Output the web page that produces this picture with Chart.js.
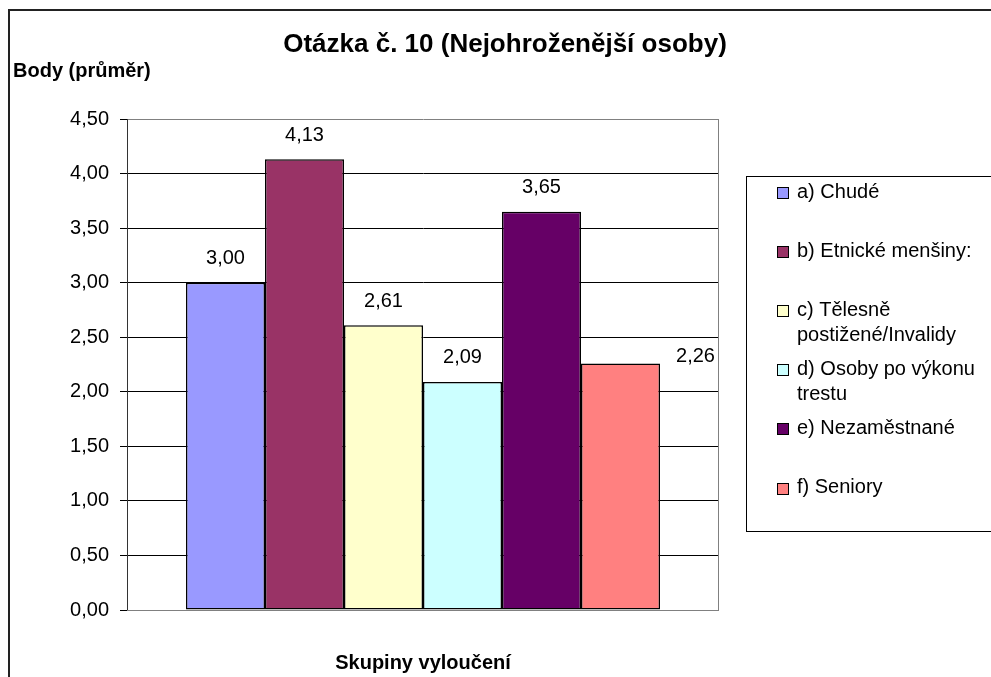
<!DOCTYPE html>
<html>
<head>
<meta charset="utf-8">
<script src="https://cdn.jsdelivr.net/npm/chart.js@4/dist/chart.umd.min.js"></script>
<style>
  html, body { margin: 0; padding: 0; background: #fff; }
  canvas { display: block; }
</style>
</head>
<body>
<canvas id="c" width="991" height="677"></canvas>
<script>
// ---- data ----
const chartTitle = 'Otázka č. 10 (Nejohroženější osoby)';
const yAxisTitle = 'Body (průměr)';
const xAxisTitle = 'Skupiny vyloučení';
const categories = [''];
const seriesNames = [
  'a) Chudé',
  'b) Etnické menšiny:',
  'c) Tělesně\npostižené/Invalidy',
  'd) Osoby po výkonu\ntrestu',
  'e) Nezaměstnané',
  'f) Seniory'
];
const seriesValues = [3.00, 4.13, 2.61, 2.09, 3.65, 2.26];
const seriesColors = ['#9999FF', '#993366', '#FFFFCC', '#CCFFFF', '#660066', '#FF8080'];
const yTicks = { min: 0, max: 4.5, step: 0.5 };

const FONT = "'Liberation Sans', Arial, sans-serif";
const fmt = v => v.toFixed(2).replace('.', ',');

const datasets = seriesNames.map((name, i) => ({
  label: name,
  data: [seriesValues[i]],
  backgroundColor: seriesColors[i],
  borderColor: '#000',
  borderWidth: 1.5,
  borderSkipped: false,
  inflateAmount: 0,
  categoryPercentage: 474 / 592,
  barPercentage: 1.0
}));

const decor = {
  id: 'decor',
  beforeDatasetsDraw(chart) {
    const { ctx, chartArea: a } = chart;
    ctx.save();
    ctx.strokeStyle = '#808080';
    ctx.lineWidth = 1;
    ctx.beginPath();
    ctx.moveTo(a.right - 0.5, a.top);
    ctx.lineTo(a.right - 0.5, a.bottom + 0.5);
    ctx.lineTo(a.left, a.bottom + 0.5);
    ctx.stroke();
    ctx.restore();
  },
  afterDatasetsDraw(chart, args, opts) {
    const { ctx } = chart;
    ctx.save();
    ctx.font = '20px ' + FONT;
    ctx.fillStyle = '#000';
    ctx.textAlign = 'center';
    ctx.textBaseline = 'middle';
    chart.data.datasets.forEach((ds, i) => {
      const el = chart.getDatasetMeta(i).data[0];
      const off = (opts.labelOffsets && opts.labelOffsets[i]) || { dx: 0, dy: 0 };
      ctx.fillText(fmt(ds.data[0]), el.x + off.dx, el.y - 24 + off.dy);
    });
    ctx.restore();
  },
  afterDraw(chart, args, opts) {
    const { ctx, chartArea: a } = chart;
    ctx.save();
    // outer border
    ctx.fillStyle = '#222';
    ctx.fillRect(8, 9, 991, 2);
    ctx.fillRect(8, 9, 2, 677);
    // titles
    ctx.fillStyle = '#000';
    ctx.textBaseline = 'alphabetic';
    ctx.font = 'bold 26px ' + FONT;
    ctx.textAlign = 'center';
    ctx.fillText(chartTitle, 505, 52);
    ctx.font = 'bold 20px ' + FONT;
    ctx.textAlign = 'left';
    ctx.fillText(yAxisTitle, 13, 77);
    ctx.textAlign = 'center';
    ctx.fillText(xAxisTitle, (a.left + a.right) / 2, 669);
    // legend
    const lx = 746, ly = 176, lh = 356;
    ctx.strokeStyle = '#000';
    ctx.lineWidth = 1;
    ctx.strokeRect(lx + 0.5, ly + 0.5, 400, lh - 1);
    ctx.font = '20px ' + FONT;
    ctx.textAlign = 'left';
    ctx.textBaseline = 'middle';
    chart.data.datasets.forEach((ds, i) => {
      const cy = 192 + i * 59.1;
      ctx.fillStyle = ds.backgroundColor;
      ctx.fillRect(777, Math.round(cy) - 5, 12, 12);
      ctx.strokeStyle = '#000';
      ctx.strokeRect(777.5, Math.round(cy) - 4.5, 11, 11);
      ctx.fillStyle = '#000';
      ds.label.split('\n').forEach((line, j) => {
        ctx.fillText(line, 797, cy + j * 25);
      });
    });
    ctx.restore();
  }
};

new Chart(document.getElementById('c'), {
  type: 'bar',
  data: { labels: categories, datasets },
  plugins: [decor],
  options: {
    responsive: false,
    devicePixelRatio: 1,
    animation: false,
    layout: { padding: { left: 10, top: 119, right: 272, bottom: 67 } },
    plugins: {
      legend: { display: false },
      title: { display: false },
      tooltip: { enabled: false },
      decor: { labelOffsets: { 5: { dx: 75, dy: 17 } } }
    },
    scales: {
      x: { display: false },
      y: {
        min: yTicks.min,
        max: yTicks.max,
        afterFit(scale) { scale.width = 117; },
        ticks: {
          stepSize: yTicks.step,
          padding: 11,
          color: '#000',
          font: { family: FONT, size: 20 },
          callback: v => fmt(v)
        },
        grid: {
          color: c => (c.tick && (c.tick.value === yTicks.min || c.tick.value === yTicks.max)) ? '#808080' : '#000',
          tickColor: '#000',
          tickLength: 7,
          lineWidth: 1
        },
        border: { display: true, color: '#333', width: 1 }
      }
    }
  }
});
</script>
</body>
</html>
